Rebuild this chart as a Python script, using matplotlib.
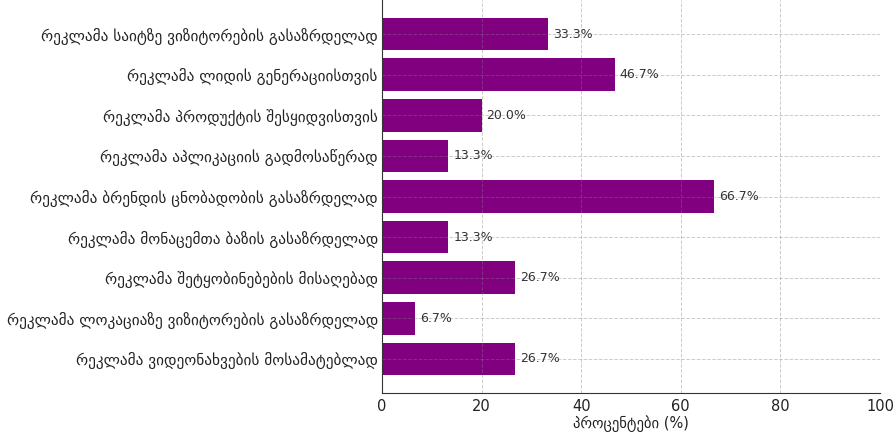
import matplotlib
matplotlib.use("Agg")
import matplotlib.pyplot as plt

plt.rcParams["font.family"] = ["DejaVu Sans"]

categories = [
    "რეკლამა საიტზე ვიზიტორების გასაზრდელად",
    "რეკლამა ლიდის გენერაციისთვის",
    "რეკლამა პროდუქტის შესყიდვისთვის",
    "რეკლამა აპლიკაციის გადმოსაწერად",
    "რეკლამა ბრენდის ცნობადობის გასაზრდელად",
    "რეკლამა მონაცემთა ბაზის გასაზრდელად",
    "რეკლამა შეტყობინებების მისაღებად",
    "რეკლამა ლოკაციაზე ვიზიტორების გასაზრდელად",
    "რეკლამა ვიდეონახვების მოსამატებლად",
]
values = [33.3, 46.7, 20.0, 13.3, 66.7, 13.3, 26.7, 6.7, 26.7]
xlabel = "პროცენტები (%)"

fig = plt.figure(figsize=(8.95, 4.32), dpi=100)
ax = fig.add_axes([382/895, 39/432, (880-382)/895, 393/432])
ax.barh(range(len(values)), values, color="#800080", height=0.8)
ax.set_yticks(range(len(values)))
ax.set_yticklabels(categories, fontsize=11, color="#222222")
ax.invert_yaxis()
ax.set_xlim(0, 100)
ax.tick_params(axis="x", labelsize=10.5, length=0, pad=4, labelcolor="#222222")
ax.tick_params(axis="y", length=0, pad=3)
ax.set_xlabel(xlabel, fontsize=10.5, labelpad=1, color="#222222")
for i, v in enumerate(values):
    ax.text(v + 1, i, f"{v:.1f}%", va="center", ha="left", fontsize=9, color="#333333")
ax.set_axisbelow(False)
ax.grid(True, linestyle="--", color="gray", linewidth=0.7, alpha=0.4)
ax.spines["top"].set_visible(False)
ax.spines["right"].set_visible(False)
for s in ("left", "bottom"):
    ax.spines[s].set_zorder(5)
    ax.spines[s].set_color("#333333")
fig.savefig("out.png", dpi=100)
